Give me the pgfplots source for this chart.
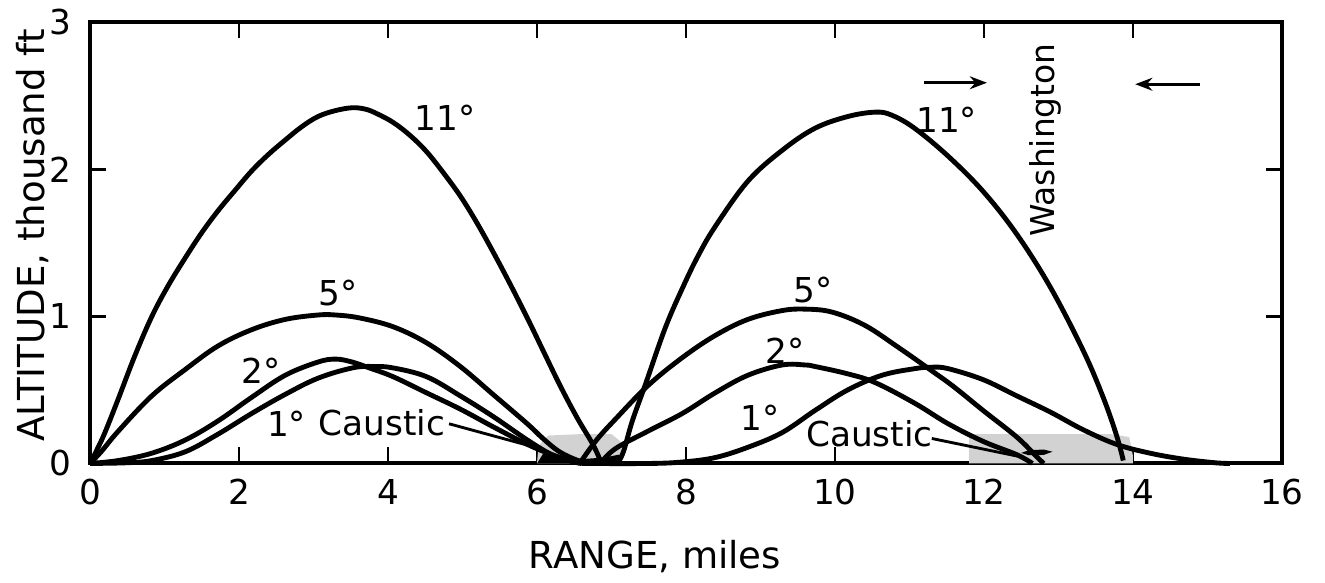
\documentclass[border=0pt]{standalone}
\usepackage{fontspec}
\setmainfont{DejaVu Sans}
\usepackage{pgfplots}
\pgfplotsset{compat=1.18}
\usetikzlibrary{arrows.meta}
\begin{document}
\begin{tikzpicture}
\begin{axis}[
  width=417.2pt, height=154.35pt, scale only axis,
  xmin=0, xmax=16, ymin=0, ymax=3,
  xtick={0,2,...,16}, ytick={0,1,2,3},
  tick align=inside, major tick length=5.6pt,
  axis line style={line width=1.4pt},
  every tick/.style={black, line width=1pt},
  tick label style={font=\fontsize{12}{12}\selectfont},
  /pgf/number format/assume math mode=true,
  xticklabel style={yshift=-2pt},
  yticklabel style={xshift=-3pt},
  xlabel={RANGE, miles},
  ylabel={ALTITUDE, thousand ft},
  every axis x label/.style={at={(axis description cs:0.474,-0.238)}, anchor=base, font=\fontsize{13}{13}\selectfont},
  every axis y label/.style={at={(axis description cs:-0.0378,0.517)}, anchor=base, rotate=90, font=\fontsize{13}{13}\selectfont},
  clip=false,
  every axis plot/.append style={black, line width=1.7pt, line join=round},
]
% invisible frame fixing the picture size
\path (rel axis cs:-0.0755,-0.2562) rectangle (rel axis cs:1.0361,1.0499);

% caustic shading
\addplot[draw=none, fill=gray!35, line width=0pt] coordinates {(6.0,0) (6.02,0.12) (6.15,0.19) (6.6,0.2) (7.0,0.2) (7.12,0.15) (7.15,0)} -- cycle;
\addplot[draw=none, fill=gray!35, line width=0pt] coordinates {(11.8,0) (11.8,0.2) (13.7,0.2) (13.95,0.18) (14.0,0.05) (14.0,0)} -- cycle;
\addplot[draw=none, fill=black, line width=0pt] coordinates {(12.5,0.072) (12.6,0.09) (12.8,0.095) (12.92,0.08) (12.8,0.058) (12.6,0.056)} -- cycle;
\addplot[draw=none, fill=black, line width=0pt] coordinates {(6.0,0) (6.1,0.08) (6.3,0.05) (6.6,0.03) (6.9,0.04) (7.1,0.06) (7.15,0)} -- cycle;

% 11 deg
\addplot[smooth, tension=0.6] coordinates {
(0,0) (0.1,0.1) (0.2,0.21) (0.38,0.44) (0.6,0.73) (0.83,1.0) (1.05,1.21) (1.28,1.4)
(1.5,1.57) (1.72,1.72) (1.95,1.86) (2.17,1.99) (2.39,2.1) (2.62,2.2) (2.84,2.29)
(3.06,2.36) (3.29,2.40) (3.52,2.42) (3.7,2.41) (3.85,2.38) (4.07,2.32) (4.3,2.23)
(4.52,2.12) (4.74,1.98) (4.97,1.82) (5.19,1.64) (5.41,1.44) (5.64,1.22) (5.87,0.99)
(6.08,0.77) (6.31,0.53) (6.54,0.31) (6.75,0.13) (6.85,0.02)};
\addplot[smooth, tension=0.6] coordinates {
(7.08,0.0) (7.16,0.08) (7.28,0.29) (7.45,0.53) (7.72,0.92) (7.95,1.19) (8.16,1.41)
(8.39,1.61) (8.83,1.92) (9.29,2.13) (9.73,2.28) (10.17,2.36) (10.54,2.39) (10.76,2.37)
(11.07,2.28) (11.52,2.09) (11.99,1.85) (12.44,1.56) (12.89,1.2) (13.33,0.77)
(13.6,0.45) (13.78,0.19) (13.87,0.02)};
% 5 deg
\addplot[smooth, tension=0.6] coordinates {
(0,0) (0.15,0.08) (0.38,0.22) (0.83,0.46) (1.28,0.64) (1.72,0.80) (2.17,0.91)
(2.62,0.98) (3.06,1.01) (3.3,1.01) (3.62,0.99) (4.07,0.93) (4.52,0.82) (4.97,0.66)
(5.41,0.47) (5.87,0.27) (6.08,0.17) (6.3,0.08) (6.55,0.02) (6.7,0)};
\addplot[smooth, tension=0.6] coordinates {
(6.6,0.02) (6.8,0.16) (7.05,0.3) (7.49,0.53) (7.95,0.72) (8.39,0.87) (8.83,0.98)
(9.29,1.04) (9.6,1.05) (9.96,1.03) (10.4,0.94) (10.85,0.79) (11.3,0.63) (11.6,0.52)
(11.99,0.36) (12.44,0.18) (12.7,0.05) (12.8,0)};
% 2 deg
\addplot[smooth, tension=0.6] coordinates {
(0,0) (0.38,0.02) (0.83,0.07) (1.28,0.16) (1.72,0.29) (2.17,0.45) (2.62,0.6)
(3.06,0.69) (3.3,0.71) (3.52,0.69) (3.75,0.65) (4.07,0.59) (4.52,0.48) (4.97,0.37)
(5.41,0.25) (5.87,0.13) (6.2,0.06) (6.5,0.01)};
\addplot[smooth, tension=0.6] coordinates {
(6.85,0.0) (7.05,0.1) (7.49,0.22) (7.95,0.34) (8.39,0.48) (8.83,0.6) (9.29,0.67)
(9.6,0.67) (9.73,0.66) (10.17,0.61) (10.54,0.55) (11.07,0.41) (11.52,0.27)
(11.99,0.15) (12.44,0.06) (12.65,0.0)};
% 1 deg
\addplot[smooth, tension=0.6] coordinates {
(0,0) (0.5,0.005) (0.83,0.02) (1.28,0.08) (1.72,0.2) (2.17,0.34) (2.62,0.47)
(3.06,0.58) (3.52,0.65) (3.8,0.66) (4.07,0.65) (4.52,0.59) (4.97,0.46) (5.41,0.32)
(5.87,0.16) (6.2,0.06) (6.5,0.01) (6.6,0)};
\addplot[smooth, tension=0.6] coordinates {
(6.6,0) (7.5,0.0) (7.95,0.01) (8.39,0.04) (8.83,0.11) (9.29,0.21) (9.73,0.36)
(10.17,0.50) (10.63,0.60) (11.07,0.645) (11.3,0.655) (11.52,0.645) (11.99,0.57)
(12.44,0.46) (12.89,0.35) (13.33,0.23) (13.78,0.13) (14.23,0.07) (14.67,0.03)
(15.1,0.005) (15.3,0)};

% caustic leaders
\addplot[line width=1pt] coordinates {(4.82,0.27) (6.05,0.1)};
\addplot[line width=1pt] coordinates {(11.3,0.17) (12.45,0.05)};
% Washington arrows
\addplot[line width=1pt, -{Stealth[length=6pt,width=4.5pt]}] coordinates {(11.2,2.59) (12.04,2.59)};
\addplot[line width=1pt, -{Stealth[length=6pt,width=4.5pt]}] coordinates {(14.9,2.58) (14.03,2.58)};

% labels
\begin{scope}[every node/.style={font=\fontsize{12}{12}\selectfont, inner sep=0pt}]
\node at (axis cs:4.77,2.35) {11°};
\node at (axis cs:11.5,2.34) {11°};
\node at (axis cs:3.33,1.16) {5°};
\node at (axis cs:9.71,1.18) {5°};
\node at (axis cs:2.3,0.63) {2°};
\node at (axis cs:9.33,0.77) {2°};
\node at (axis cs:2.64,0.27) {1°};
\node at (axis cs:3.92,0.28) {Caustic};
\node at (axis cs:8.99,0.31) {1°};
\node at (axis cs:10.46,0.2) {Caustic};
\node[rotate=90, font=\fontsize{11.5}{11.5}\selectfont] at (axis cs:12.82,2.2) {Washington};
\end{scope}
\end{axis}
\end{tikzpicture}
\end{document}
